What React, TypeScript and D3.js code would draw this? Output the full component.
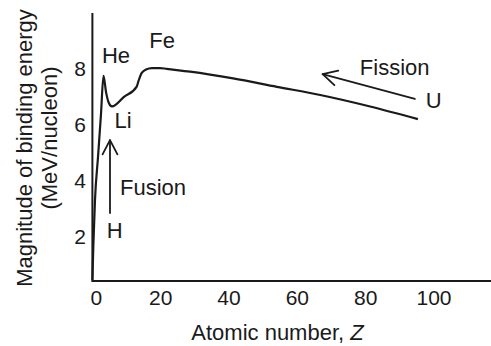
import React from "react";
import * as d3 from "d3";

// Binding energy curve (Z, MeV/nucleon)
const curveZ = [0, 0.26, 0.76, 1.64, 2.5, 3.25, 3.98, 4.7, 5.74, 9.25, 12.97, 13.5, 14.4, 15.7, 17.4, 19.8, 21.75, 28.6, 41.2, 54, 66.7, 81.3, 95.3];
const curveE = [0.45, 1.64, 3.32, 4.85, 6.35, 7.74, 7.17, 6.81, 6.65, 6.99, 7.36, 7.56, 7.84, 7.97, 8.02, 8.02, 7.99, 7.89, 7.65, 7.35, 7.06, 6.65, 6.2];

const xTicks = [0, 20, 40, 60, 80, 100];
const yTicks = [2, 4, 6, 8];

const labelTexts = ["He", "Fe", "Li", "Fusion", "H", "Fission", "U"];
const labelZ = [6.9, 20.4, 9.0, 8.1, 6.5, 78.3, 97.6];
const labelE = [8.2, 8.75, 5.88, 3.49, 1.96, 7.77, 6.6];
const labelAnchor = ["middle", "middle", "middle", "start", "middle", "start", "start"];

// arrows: [fromZ, fromE, toZ, toE]
const fusionArrow = [5.15, 2.85, 5.15, 5.45];
const fissionArrow = [94.4, 6.92, 67.4, 7.8];

const W = 491;
const H = 346;
const FONT = "'Liberation Sans', Arial, Helvetica, sans-serif";
const INK = "#1a1a1a";

export default function App() {
  const x = d3.scaleLinear().domain([0, 100]).range([92.4, 434]);
  const y = d3.scaleLinear().domain([0, 8]).range([293, 68.6]);
  const yMin = 0.43;
  const yMax = 9.98;
  const xMax = x.invert(W);

  const pts: [number, number][] = curveZ.map((z, i) => [x(z), y(curveE[i])]);
  const line = d3.line().curve(d3.curveMonotoneX)(pts) || "";

  const arrow = (a: number[], key: string) => {
    const x1 = x(a[0]), y1 = y(a[1]), x2 = x(a[2]), y2 = y(a[3]);
    const ang = Math.atan2(y2 - y1, x2 - x1);
    const len = 16, spread = Math.PI / 6.5;
    const h1 = [x2 - len * Math.cos(ang - spread), y2 - len * Math.sin(ang - spread)];
    const h2 = [x2 - len * Math.cos(ang + spread), y2 - len * Math.sin(ang + spread)];
    return (
      <g key={key} stroke={INK} strokeWidth={1.8} fill="none" strokeLinecap="round" strokeLinejoin="round">
        <line x1={x1} y1={y1} x2={x2} y2={y2} />
        <polyline points={`${h1[0]},${h1[1]} ${x2},${y2} ${h2[0]},${h2[1]}`} />
      </g>
    );
  };

  return (
    <svg width={W} height={H} style={{ position: "absolute", left: 0, top: 0, background: "#fff" }} fontFamily={FONT}>
      <rect width={W} height={H} fill="#fff" />
      {/* axes */}
      <path d={`M${x(0)},${y(yMax)} V${y(yMin)} H${x(xMax)}`} fill="none" stroke={INK} strokeWidth={2} />
      {/* x ticks */}
      {xTicks.map((t) => (
        <text key={"x" + t} x={x(t) + (t === 0 ? 4 : 0)} y={305} textAnchor="middle" fontSize={21} fill={INK}>
          {t}
        </text>
      ))}
      {yTicks.map((t) => (
        <text key={"y" + t} x={86} y={y(t) + 7.5} textAnchor="end" fontSize={21} fill={INK}>
          {t}
        </text>
      ))}
      {/* curve */}
      <path d={line} fill="none" stroke={INK} strokeWidth={2.2} strokeLinejoin="round" />
      {/* annotations */}
      {labelTexts.map((s, i) => (
        <text key={s} x={x(labelZ[i])} y={y(labelE[i])} textAnchor={labelAnchor[i] as any} fontSize={22} fill={INK}>
          {s}
        </text>
      ))}
      {arrow(fusionArrow, "fu")}
      {arrow(fissionArrow, "fi")}
      {/* axis titles */}
      <text x={277.5} y={340} textAnchor="middle" fontSize={22} fill={INK}>
        Atomic number, <tspan fontStyle="italic">Z</tspan>
      </text>
      <g transform="translate(32,148) rotate(-90)">
        <text x={0} y={0} textAnchor="middle" fontSize={22} fill={INK}>Magnitude of binding energy</text>
      </g>
      <g transform="translate(57,138) rotate(-90)">
        <text x={0} y={0} textAnchor="middle" fontSize={22} fill={INK}>(MeV/nucleon)</text>
      </g>
    </svg>
  );
}
